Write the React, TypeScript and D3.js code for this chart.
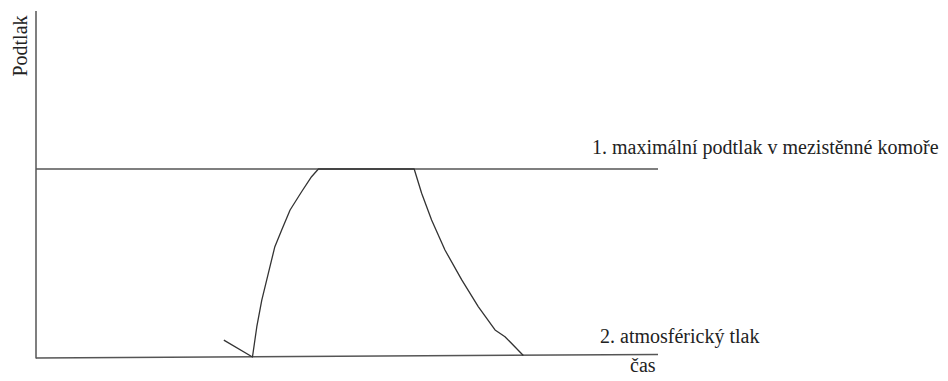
import React from "react";
import * as d3 from "d3";

// Pressure curve: time (arbitrary units 0..100) vs. vacuum (0 = atmospheric, 100 = max)
const times = [30.2, 34.8, 35.5, 36.3, 37.35, 38.4, 39.5, 40.85, 42.7, 44.3, 45.4, 60.8, 62.0, 63.6, 65.75, 68.45, 71.1, 73.8, 75.4, 78.35];
const vacuum = [9.0, 0, 16.1, 30.3, 44.5, 58.7, 67.6, 78.2, 87.9, 95.9, 100, 100, 87.1, 72.9, 56.9, 41.0, 26.8, 14.4, 10.8, 0.8];
const levelValues = [100, 0];
const levelLabels = ["1. maximální podtlak v mezistěnné komoře", "2. atmosférický tlak"];
const yLabel = "Podtlak";
const xLabel = "čas";

const W = 948;
const H = 381;

export default function App() {
  const x = d3.scaleLinear().domain([0, 100]).range([36, 658]);
  const y = d3.scaleLinear().domain([0, 100]).range([357, 169]);
  const yTop = 184;

  const pts = times.map((t, i) => [t, vacuum[i]] as [number, number]);
  const line = d3
    .line<[number, number]>()
    .x((d) => x(d[0]))
    .y((d) => y(d[1]))
    .curve(d3.curveLinear);

  const font = "'Liberation Serif', 'Times New Roman', 'DejaVu Serif', serif";
  const txt = { fontFamily: font, fontSize: 20, fill: "#222" } as React.CSSProperties;

  return (
    <svg width={W} height={H} style={{ position: "absolute", left: 0, top: 0, background: "#fff" }}>
      {/* y axis */}
      <line x1={x(0)} x2={x(0)} y1={y(yTop)} y2={y(0) + 1.5} stroke="#555" strokeWidth={1.5} />
      {/* max level line */}
      <line x1={x(0)} x2={x(100)} y1={y(levelValues[0])} y2={y(levelValues[0])} stroke="#555" strokeWidth={1.5} />
      {/* atmospheric level line / time axis (slightly tilted as drawn) */}
      <line x1={x(0)} x2={x(100)} y1={y(levelValues[1]) + 1} y2={y(levelValues[1]) - 2.5} stroke="#555" strokeWidth={1.5} />
      {/* curve */}
      <path d={line(pts) || ""} fill="none" stroke="#333" strokeWidth={1.3} strokeLinejoin="round" />
      {/* labels */}
      <text x={592} y={154} style={txt}>
        {levelLabels[0]}
      </text>
      <text x={600} y={343} style={txt}>
        {levelLabels[1]}
      </text>
      <text x={630} y={372} style={txt}>
        {xLabel}
      </text>
      <text transform={`translate(27,46) rotate(-90)`} textAnchor="middle" style={txt}>
        {yLabel}
      </text>
    </svg>
  );
}
